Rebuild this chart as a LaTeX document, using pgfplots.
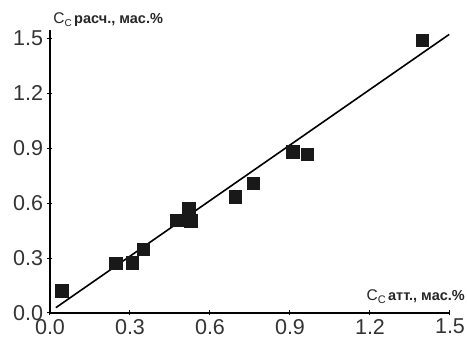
\documentclass[border=0pt]{standalone}
\usepackage{pgfplots}
\pgfplotsset{compat=1.18}
\usepackage{fontspec}
\setmainfont{Liberation Sans}
\begin{document}
\begin{tikzpicture}
\path[use as bounding box] (0,0) rectangle (467pt,-342pt);
\begin{axis}[
  at={(50pt,-313pt)}, anchor=south west,
  scale only axis,
  width=400pt, height=283pt,
  xmin=0, xmax=1.5, ymin=0, ymax=1.544,
  axis lines=left,
  axis line style={line width=2.2pt, black, -},
  xtick={0,0.3,0.6,0.9,1.2,1.5},
  ytick={0,0.3,0.6,0.9,1.2,1.5},
  tick align=center,
  major tick length=5pt,
  tick style={line width=1pt, black},
  /pgf/number format/assume math mode=true,
  /pgf/number format/.cd, fixed, fixed zerofill, precision=1, /tikz/.cd,
  tick label style={font=\fontsize{21.5}{21.5}\selectfont, text=black!80},
  yticklabel style={xshift=-1pt},
  clip=false,
]
\addplot[black, line width=1.6pt] coordinates {(0.022,0.029) (1.497,1.52)};
\addplot[only marks, mark=square*, mark size=6.2pt, mark options={fill=black!90, draw=black!90}] coordinates {
(0.044,0.122) (0.247,0.271) (0.309,0.274) (0.350,0.349) (0.475,0.507)
(0.520,0.571) (0.528,0.504) (0.695,0.635) (0.762,0.707) (0.910,0.880)
(0.965,0.866) (1.396,1.489)
};
\node[anchor=west, font=\fontsize{14.5}{14.5}\selectfont, inner sep=0pt, text=black!85] at (rel axis cs:0.008,1.035) {{\fontsize{15.5}{15.5}\selectfont C}\raisebox{-0.4ex}{\fontsize{10}{10}\selectfont С}\,\textbf{расч., мас.\%}};
\node[anchor=east, font=\fontsize{14.5}{14.5}\selectfont, inner sep=0pt, text=black!85] at (rel axis cs:1.0375,0.057) {{\fontsize{15.5}{15.5}\selectfont C}\raisebox{-0.4ex}{\fontsize{11}{11}\selectfont С}\,\textbf{атт., мас.\%}};
\end{axis}
\end{tikzpicture}
\end{document}
